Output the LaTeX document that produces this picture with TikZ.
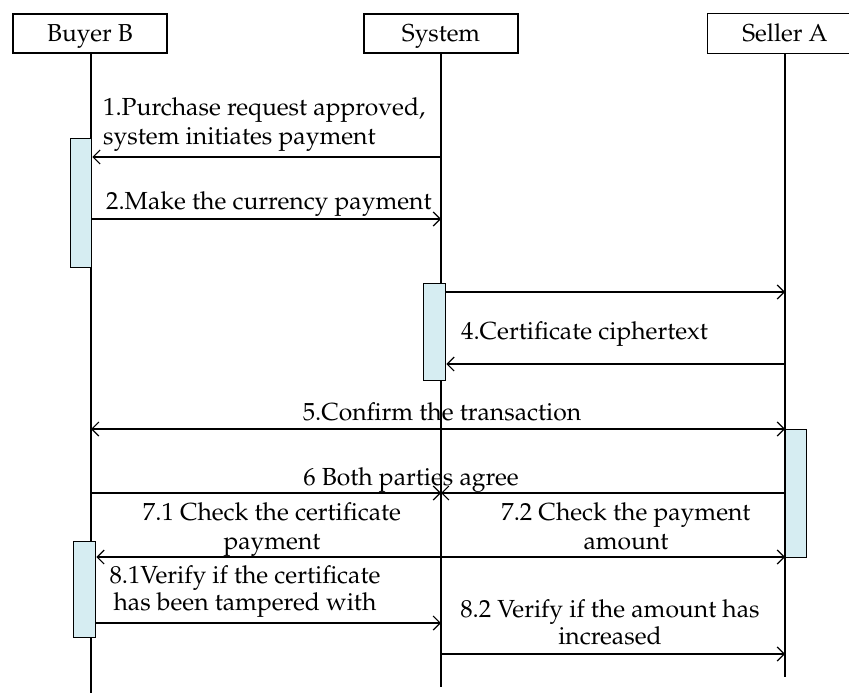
\documentclass[tikz,border=0pt]{standalone}
\usepackage[T1]{fontenc}
\usepackage{mathpazo}
\usetikzlibrary{arrows.meta}
\definecolor{actfill}{rgb}{0.84,0.93,0.95}
\tikzset{
  head/.style={draw, line width=1.3pt, fill=white, inner sep=0pt,
    minimum width=154pt, minimum height=39pt, text height=16pt, text depth=0pt,
    font=\fontsize{24.5}{29}\selectfont},
  life/.style={line width=1.2pt},
  act/.style={draw, line width=1.3pt, fill=actfill, inner sep=0pt, anchor=north west},
  msg/.style={line width=1.3pt, -{Straight Barb[length=7pt,width=14pt,line width=1.2pt]}},
  both/.style={line width=1.3pt, {Straight Barb[length=7pt,width=14pt,line width=1.2pt]}-{Straight Barb[length=7pt,width=14pt,line width=1.2pt]}},
  lbl/.style={inner sep=0pt, font=\fontsize{24.7}{29}\selectfont},
}
\begin{document}
\begin{tikzpicture}[x=1pt,y=-1pt]
\useasboundingbox (0,0) rectangle (849,693);

% lifeline heads
\node[head] (hB) at (90,33.5) {Buyer B};
\node[head] (hS) at (441,33.5) {System};
\node[head, draw=none] (hA) at (785,33.5) {Seller A};
\draw[line width=1.3pt] (hA.north east) -- (hA.north west) -- (hA.south west) -- (hA.south east);

% lifeline ends
\coordinate (eB) at (91,693);
\coordinate (eS) at (441,687);
\coordinate (eA) at (785,677);
\draw[life] (hB.south -| eB) -- (eB);
\draw[life] (hS.south -| eS) -- (eS);
\draw[life] (hA.south -| eA) -- (eA);

% activation bars
\node[act, minimum width=21pt, minimum height=129pt] (aB1) at (70,138) {};
\node[act, minimum width=22pt, minimum height=97pt] (aS1) at (423,283) {};
\node[act, minimum width=21pt, minimum height=128pt] (aA1) at (785,429) {};
\node[act, minimum width=22pt, minimum height=96pt] (aB2) at (73,541) {};

% message rows
\coordinate (m1) at (0,157);
\coordinate (m2) at (0,219);
\coordinate (m3) at (0,292);
\coordinate (m4) at (0,364);
\coordinate (m5) at (0,429);
\coordinate (m6) at (0,493);
\coordinate (m7) at (0,557);
\coordinate (m81) at (0,623);
\coordinate (m82) at (0,654);

% messages
\draw[msg] (eS |- m1) -- (aB1.east |- m1);
\draw[msg] (aB1.east |- m2) -- (eS |- m2);
\draw[msg] (aS1.east |- m3) -- (eA |- m3);
\draw[msg] (eA |- m4) -- (aS1.east |- m4);
\draw[both] (eB |- m5) -- (eA |- m5);
\draw[msg] (eB |- m6) -- (eS |- m6);
\draw[msg] (eA |- m6) -- (eS |- m6);
\draw[msg] (eS |- m7) -- (aB2.east |- m7);
\draw[msg] (eS |- m7) -- (eA |- m7);
\draw[msg] (aB2.east |- m81) -- (eS |- m81);
\draw[msg] (eS |- m82) -- (eA |- m82);

% labels
\node[lbl, anchor=base west] (t1a) at (103,115) {1.Purchase request approved,};
\node[lbl, anchor=base west] (t1b) at (103,144) {system initiates payment};
\node[lbl, anchor=base west] (t2) at (106,209) {2.Make the currency payment};
\node[lbl, anchor=base west] (t4) at (461,339) {4.Certificate ciphertext};
\node[lbl, anchor=base] (t5) at (442,420) {5.Confirm the transaction};
\node[lbl, anchor=base] (t6) at (411,485) {6 Both parties agree};
\node[lbl, anchor=base] (t71a) at (272,520) {7.1 Check the certificate};
\node[lbl, anchor=base] (t71b) at (272,549) {payment};
\node[lbl, anchor=base] (t72a) at (626,520) {7.2 Check the payment};
\node[lbl, anchor=base] (t72b) at (626,549) {amount};
\node[lbl, anchor=base] (t81a) at (245,583) {8.1Verify if the certificate};
\node[lbl, anchor=base] (t81b) at (245,610) {has been tampered with};
\node[lbl, anchor=base] (t82a) at (610,617) {8.2 Verify if the amount has};
\node[lbl, anchor=base] (t82b) at (610,644) {increased};
\end{tikzpicture}
\end{document}
